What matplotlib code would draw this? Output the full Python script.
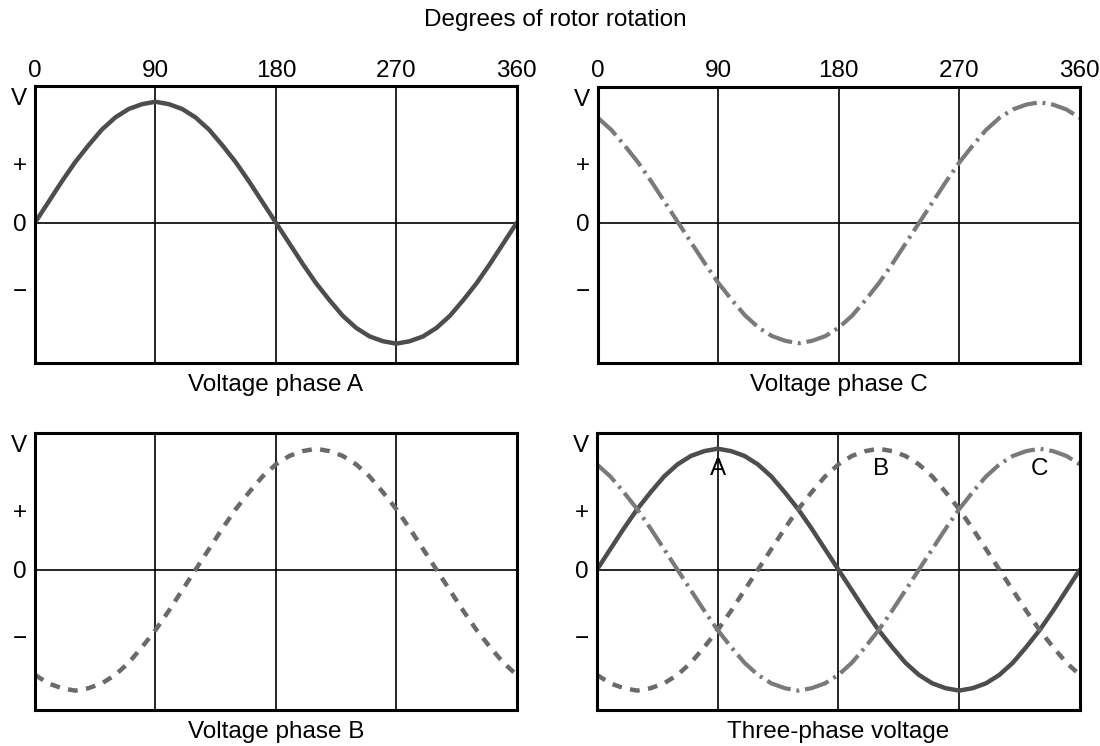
import matplotlib

matplotlib.use("Agg")
import matplotlib.pyplot as plt

# rotor angle in degrees, read every 10 degrees
angle = list(range(0, 361, 10))

phase_a = [0.00, 0.17, 0.34, 0.50, 0.64, 0.77, 0.87, 0.94, 0.98, 1.00,
           0.98, 0.94, 0.87, 0.77, 0.64, 0.50, 0.34, 0.17, 0.00,
           -0.17, -0.34, -0.50, -0.64, -0.77, -0.87, -0.94, -0.98, -1.00,
           -0.98, -0.94, -0.87, -0.77, -0.64, -0.50, -0.34, -0.17, 0.00]

phase_b = [-0.87, -0.94, -0.98, -1.00, -0.98, -0.94, -0.87, -0.77, -0.64, -0.50,
           -0.34, -0.17, 0.00, 0.17, 0.34, 0.50, 0.64, 0.77, 0.87,
           0.94, 0.98, 1.00, 0.98, 0.94, 0.87, 0.77, 0.64, 0.50,
           0.34, 0.17, 0.00, -0.17, -0.34, -0.50, -0.64, -0.77, -0.87]

phase_c = [0.87, 0.77, 0.64, 0.50, 0.34, 0.17, 0.00, -0.17, -0.34, -0.50,
           -0.64, -0.77, -0.87, -0.94, -0.98, -1.00, -0.98, -0.94, -0.87,
           -0.77, -0.64, -0.50, -0.34, -0.17, 0.00, 0.17, 0.34, 0.50,
           0.64, 0.77, 0.87, 0.94, 0.98, 1.00, 0.98, 0.94, 0.87]

x_ticks = [0, 90, 180, 270, 360]
y_ticks = [1.04, 0.49, 0.0, -0.55]
y_labels = ["V", "+", "0", "\u2212"]

curve_names = ["A", "B", "C"]
curve_label_x = [90, 212, 330]
curve_label_y = 0.83

plt.rcParams["font.family"] = ["Liberation Sans", "DejaVu Sans"]
FS = 17.5

STYLE_A = dict(color="#4d4d4d", lw=3.2, solid_capstyle="round",
               solid_joinstyle="round")
STYLE_B = dict(color="#6a6a6a", lw=3.2, dashes=(2.2, 1.9))
STYLE_C = dict(color="#7a7a7a", lw=3.0, dashes=(6.0, 1.4, 0.7, 1.4))

fig = plt.figure(figsize=(11, 7.46), dpi=100)

panels = {
    "A": [0.0318, 0.5134, 0.438, 0.3713],
    "C": [0.5436, 0.5140, 0.438, 0.3700],
    "B": [0.0318, 0.0483, 0.438, 0.3713],
    "D": [0.5427, 0.0483, 0.439, 0.3713],
}


def setup(ax, top_labels):
    ax.set_xlim(0, 360)
    ax.set_ylim(-1.16, 1.13)
    for v in (90, 180, 270):
        ax.axvline(v, color="black", lw=1.2, zorder=1)
    ax.axhline(0, color="black", lw=1.2, zorder=1)
    for sp in ax.spines.values():
        sp.set_linewidth(2.2)
    ax.set_yticks(y_ticks)
    ax.set_yticklabels(y_labels, fontsize=FS)
    ax.tick_params(axis="y", length=0, pad=6)
    ax.set_xticks(x_ticks)
    if top_labels:
        ax.xaxis.tick_top()
        ax.set_xticklabels([str(t) for t in x_ticks], fontsize=FS)
        ax.tick_params(axis="x", length=0, pad=3)
    else:
        ax.set_xticklabels([])
        ax.tick_params(axis="x", length=0)


ax_a = fig.add_axes(panels["A"])
setup(ax_a, True)
ax_a.plot(angle, phase_a, **STYLE_A)

ax_c = fig.add_axes(panels["C"])
setup(ax_c, True)
ax_c.plot(angle, phase_c, **STYLE_C)

ax_b = fig.add_axes(panels["B"])
setup(ax_b, False)
ax_b.plot(angle, phase_b, **STYLE_B)

ax_d = fig.add_axes(panels["D"])
setup(ax_d, False)
ax_d.plot(angle, phase_a, **STYLE_A)
ax_d.plot(angle, phase_b, **STYLE_B)
ax_d.plot(angle, phase_c, **STYLE_C)
for name, xl in zip(curve_names, curve_label_x):
    ax_d.text(xl, curve_label_y, name, fontsize=FS, ha="center", va="center",
              zorder=5)

fig.text(0.505, 0.973, "Degrees of rotor rotation", fontsize=FS,
         ha="center", va="center")
fig.text(0.2509, 0.484, "Voltage phase A", fontsize=FS, ha="center", va="center")
fig.text(0.7626, 0.484, "Voltage phase C", fontsize=FS, ha="center", va="center")
fig.text(0.2509, 0.019, "Voltage phase B", fontsize=FS, ha="center", va="center")
fig.text(0.7622, 0.019, "Three-phase voltage", fontsize=FS,
         ha="center", va="center")

fig.savefig("out.png", dpi=100)
